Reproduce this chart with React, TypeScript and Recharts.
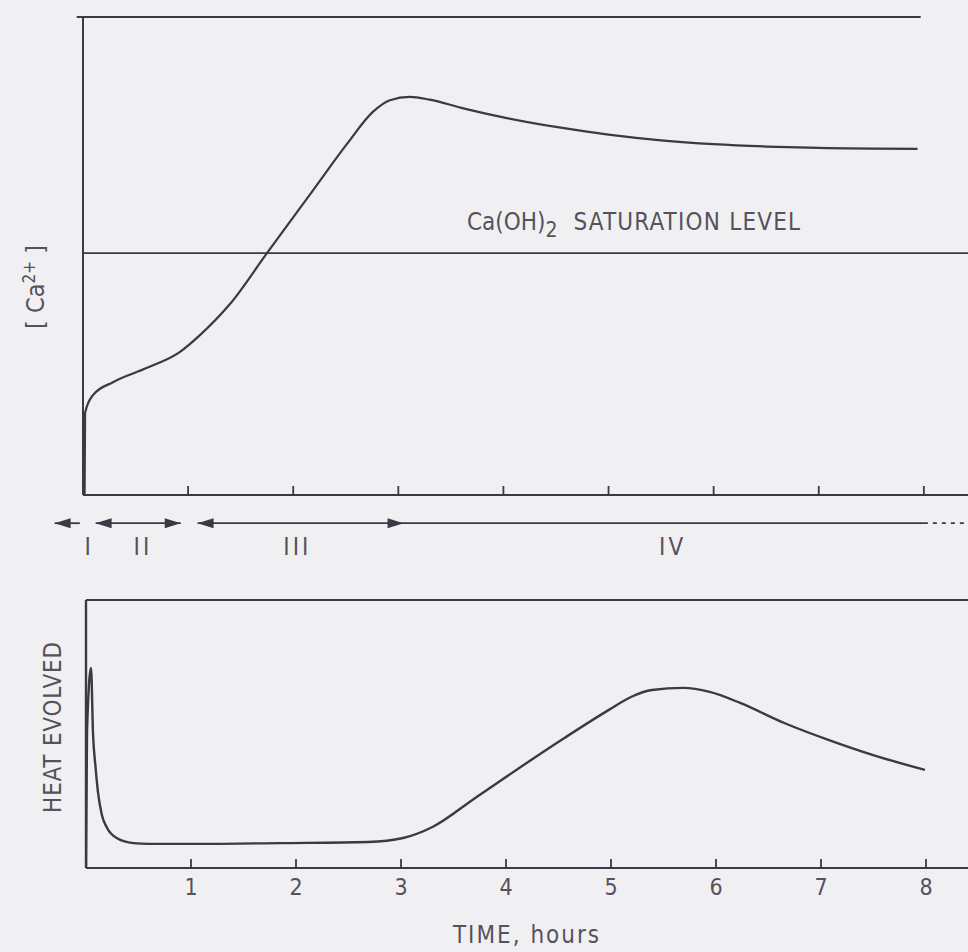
import React from 'react';
import { LineChart, Line, XAxis, YAxis, ReferenceLine, ReferenceDot } from 'recharts';

// ---------- data ----------
const timeTicks = [1, 2, 3, 4, 5, 6, 7, 8];
const tickLabels = ['1', '2', '3', '4', '5', '6', '7', '8'];

// [Ca2+] in solution (arbitrary units, 0-100)
const caTime = [0.015, 0.02, 0.095, 0.285, 0.61, 0.92, 1.11, 1.4, 1.75, 2.19, 2.51, 2.76, 2.92, 3.11, 3.3, 3.6, 4.0, 4.5, 5.0, 5.5, 6.0, 6.5, 7.0, 7.94];
const caValue = [0, 17.2, 20.9, 23.6, 26.6, 29.9, 33.4, 40.0, 50.6, 63.8, 73.4, 80.2, 82.6, 83.3, 82.7, 81.0, 79.0, 77.0, 75.4, 74.2, 73.4, 72.9, 72.6, 72.4];
const saturationLevel = 50.6;

// Heat evolved (arbitrary units, 0-100)
const heatTime = [0.0, 0.01, 0.048, 0.067, 0.09, 0.115, 0.15, 0.2, 0.3, 0.45, 0.6, 1.09, 1.85, 2.69, 3.02, 3.3, 3.72, 4.14, 4.56, 4.98, 5.19, 5.39, 5.69, 5.94, 6.23, 6.65, 7.07, 7.49, 7.99];
const heatValue = [0, 51.5, 74.6, 50.0, 38.0, 28.0, 20.0, 15.0, 11.0, 9.3, 9.0, 9.0, 9.3, 9.7, 11.2, 15.3, 26.5, 37.7, 48.6, 59.0, 63.8, 66.4, 67.2, 65.7, 61.6, 54.1, 47.8, 42.2, 36.6];

// hydration periods
const phaseLabels = ['I', 'II', 'III', 'IV'];
const phaseLabelTimes = [0.06, 0.57, 2.04, 5.61];
const phaseSegStart = [-0.27, 0.12, 1.09];
const phaseSegEnd = [-0.03, 0.93, 8.0];
const phaseHeadTimes = [-0.27, 0.12, 0.93, 1.09, 3.05];
const phaseHeadDirs = ['left', 'left', 'right', 'left', 'right'];
const phaseDashStart = 8.0;
const phaseDashEnd = 8.42;
const phaseArrowLevel = -5.9;
const phaseLabelLevel = -10.7;

// ---------- styles ----------
const INK = '#3d3844';
const TEXT = '#56515b';
const BG = '#f0f0f2';
const FONT = "'DejaVu Sans Condensed', 'Liberation Sans Narrow', 'DejaVu Sans', sans-serif";

const caData = caTime.map((t, i) => ({ t, v: caValue[i] }));
const heatData = heatTime.map((t, i) => ({ t, v: heatValue[i] }));

const makeTick = (showLabel: boolean) => (props: any) => {
  const { x, y, payload } = props;
  const idx = timeTicks.indexOf(payload.value);
  return (
    <g>
      <line x1={x} x2={x} y1={y} y2={y - 9} stroke={INK} strokeWidth={1.8} />
      {showLabel && (
        <text x={x} y={y + 27} textAnchor="middle" fontFamily={FONT} fontSize={23} fill={TEXT}>
          {idx >= 0 ? tickLabels[idx] : payload.value}
        </text>
      )}
    </g>
  );
};

const arrowHead = (dir: string) => (p: any) => {
  const { cx, cy } = p;
  const d = dir === 'left'
    ? `M${cx},${cy} L${cx + 16},${cy - 5} L${cx + 16},${cy + 5} Z`
    : `M${cx},${cy} L${cx - 16},${cy - 5} L${cx - 16},${cy + 5} Z`;
  return <path d={d} fill={INK} stroke="none" />;
};

const phaseText = (label: string) => (p: any) => (
  <text x={p.cx} y={p.cy + 9} textAnchor="middle" fontFamily={FONT} fontSize={24} letterSpacing={3} fill={TEXT}>
    {label}
  </text>
);

export default function App() {
  return (
    <div style={{ position: 'absolute', left: 0, top: 0, width: 968, height: 952, background: BG, overflow: 'hidden' }}>
      {/* Top panel: [Ca2+] */}
      <div style={{ position: 'absolute', left: 0, top: 0 }}>
        <LineChart width={968} height={570} data={caData} margin={{ top: 17, right: 0, left: 83, bottom: 0 }}>
          <XAxis
            dataKey="t"
            type="number"
            domain={[0, 8.42]}
            ticks={timeTicks}
            allowDataOverflow
            height={75}
            tickSize={0}
            tickMargin={0}
            tickLine={false}
            axisLine={{ stroke: INK, strokeWidth: 2 }}
            tick={makeTick(false)}
          />
          <YAxis hide domain={[0, 100]} type="number" allowDataOverflow />
          <ReferenceLine x={0} stroke={INK} strokeWidth={2} />
          <ReferenceLine
            segment={[{ x: -0.06, y: 100 }, { x: 7.97, y: 100 }]}
            stroke={INK}
            strokeWidth={2}
            ifOverflow="visible"
          />
          <ReferenceLine y={saturationLevel} stroke={INK} strokeWidth={1.6} />
          {phaseSegStart.map((s, i) => (
            <ReferenceLine
              key={'seg' + i}
              segment={[{ x: s, y: phaseArrowLevel }, { x: phaseSegEnd[i], y: phaseArrowLevel }]}
              stroke={INK}
              strokeWidth={1.8}
              ifOverflow="visible"
            />
          ))}
          <ReferenceLine
            segment={[{ x: phaseDashStart, y: phaseArrowLevel }, { x: phaseDashEnd, y: phaseArrowLevel }]}
            stroke={INK}
            strokeWidth={1.8}
            strokeDasharray="4 5"
            ifOverflow="visible"
          />
          {phaseHeadTimes.map((t, i) => (
            <ReferenceDot
              key={'head' + i}
              x={t}
              y={phaseArrowLevel}
              r={0}
              ifOverflow="visible"
              shape={arrowHead(phaseHeadDirs[i])}
            />
          ))}
          {phaseLabels.map((lab, i) => (
            <ReferenceDot
              key={'lab' + i}
              x={phaseLabelTimes[i]}
              y={phaseLabelLevel}
              r={0}
              ifOverflow="visible"
              shape={phaseText(lab)}
            />
          ))}
          <Line
            dataKey="v"
            type="monotone"
            stroke={INK}
            strokeWidth={2.2}
            dot={false}
            activeDot={false}
            isAnimationActive={false}
          />
        </LineChart>
      </div>

      {/* Bottom panel: heat evolved */}
      <div style={{ position: 'absolute', left: 0, top: 570 }}>
        <LineChart width={968} height={382} data={heatData} margin={{ top: 30, right: 0, left: 86, bottom: 0 }}>
          <XAxis
            dataKey="t"
            type="number"
            domain={[0, 8.4]}
            ticks={timeTicks}
            allowDataOverflow
            height={84}
            tickSize={0}
            tickMargin={0}
            tickLine={false}
            axisLine={{ stroke: INK, strokeWidth: 2 }}
            tick={makeTick(true)}
          />
          <YAxis hide domain={[0, 100]} type="number" allowDataOverflow />
          <ReferenceLine x={0} stroke={INK} strokeWidth={2.4} />
          <ReferenceLine y={100} stroke={INK} strokeWidth={2} />
          <Line
            dataKey="v"
            type="monotone"
            stroke={INK}
            strokeWidth={2.4}
            dot={false}
            activeDot={false}
            isAnimationActive={false}
          />
        </LineChart>
      </div>

      {/* Text labels */}
      <svg width={968} height={952} style={{ position: 'absolute', left: 0, top: 0, pointerEvents: 'none' }}>
        <text x={467} y={230} fontFamily={FONT} fontSize={24} fill={TEXT}>
          Ca(OH)
          <tspan dy={7} fontSize={21}>2</tspan>
          <tspan dy={-7} dx={16} letterSpacing={1.2}>SATURATION LEVEL</tspan>
        </text>
        <text
          x={0}
          y={0}
          transform="translate(44,287) rotate(-90)"
          textAnchor="middle"
          fontFamily={FONT}
          fontSize={25}
          fill={TEXT}
        >
          [ Ca
          <tspan dy={-9} fontSize={17}>2+</tspan>
          <tspan dy={9}> ]</tspan>
        </text>
        <text
          x={0}
          y={0}
          transform="translate(61,727) rotate(-90)"
          textAnchor="middle"
          fontFamily={FONT}
          fontSize={24}
          letterSpacing={0.8}
          fill={TEXT}
        >
          HEAT EVOLVED
        </text>
        <text x={527} y={943} textAnchor="middle" fontFamily={FONT} fontSize={24} letterSpacing={2} fill={TEXT}>
          TIME, hours
        </text>
      </svg>
    </div>
  );
}
